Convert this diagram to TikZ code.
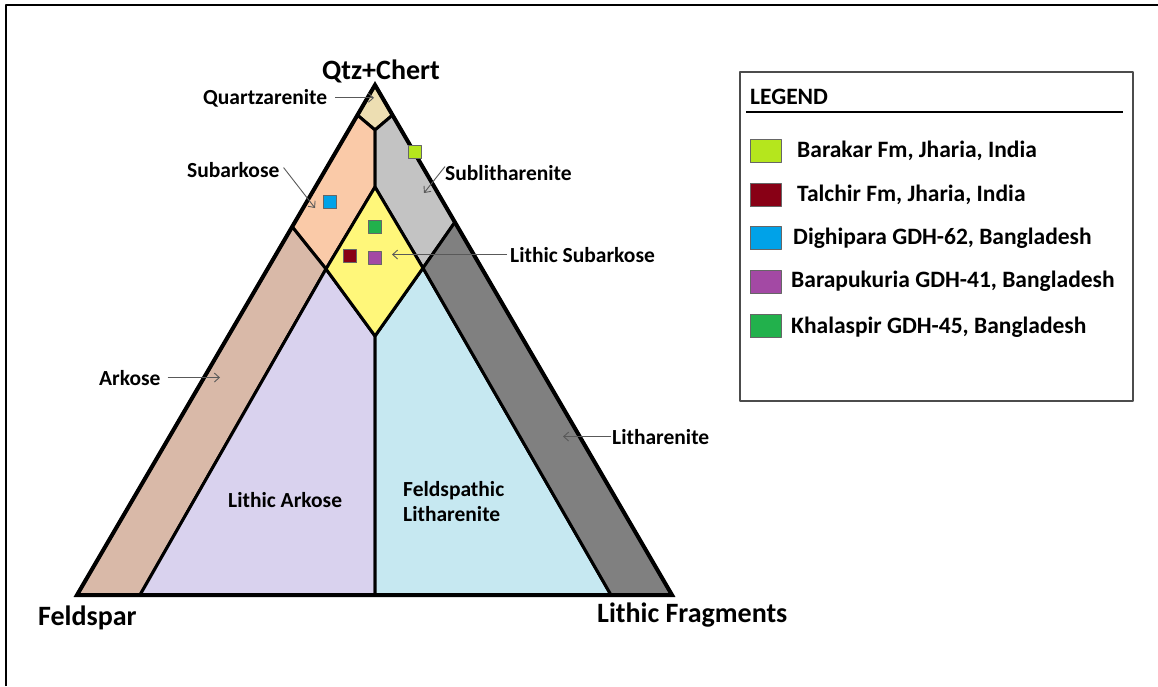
\documentclass[tikz,border=0pt]{standalone}
\usepackage{fontspec}
\setmainfont{Carlito}
\usetikzlibrary{arrows.meta,calc}
\definecolor{cQ}{RGB}{237,222,178}
\definecolor{cSA}{RGB}{250,202,168}
\definecolor{cSL}{RGB}{195,195,195}
\definecolor{cLS}{RGB}{255,247,122}
\definecolor{cAR}{RGB}{217,185,168}
\definecolor{cLA}{RGB}{217,210,238}
\definecolor{cFL}{RGB}{198,232,241}
\definecolor{cLI}{RGB}{128,128,128}
\definecolor{mLime}{RGB}{181,230,29}
\definecolor{mRed}{RGB}{136,0,21}
\definecolor{mBlue}{RGB}{0,162,232}
\definecolor{mPurple}{RGB}{163,73,164}
\definecolor{mGreen}{RGB}{34,177,76}
\begin{document}
\begin{tikzpicture}[x=1pt,y=-1pt,line join=round,
  region/.style={draw=black,line width=3pt},
  lbl/.style={font=\fontsize{21.5}{25}\selectfont\bfseries,inner sep=0pt,anchor=base west,align=left},
  big/.style={font=\fontsize{28}{32}\selectfont\bfseries,inner sep=0pt},
  leg/.style={font=\fontsize{23.5}{27}\selectfont\bfseries,inner sep=0pt,anchor=base west},
  pointer/.style={draw=black!65,line width=0.9pt,-{Straight Barb[length=5pt,width=9pt]}},
  sample/.style={draw=black!60,line width=1pt,minimum width=13pt,minimum height=13pt,inner sep=0pt},
  legsq/.style={draw=black!60,line width=1pt,minimum width=31pt,minimum height=23pt,inner sep=0pt}]
\useasboundingbox (0,0) rectangle (1158,686);
\fill[white] (0,0) rectangle (1158,686);
\draw[line width=2.5pt] (6,686) -- (6,5) -- (1158,5);
% key points
\coordinate (A) at (375,85);
\coordinate (F) at (77,595);
\coordinate (L) at (672,595);
\coordinate (QL) at ($(A)!0.059!(F)$);
\coordinate (QR) at ($(A)!0.059!(L)$);
\coordinate (QB) at (375,130);
\coordinate (D1) at (375,187);
\coordinate (DL) at (326,269);
\coordinate (DR) at (423,268);
\coordinate (DB) at (375,336);
\coordinate (SL) at ($(A)!0.278!(F)$);
\coordinate (SR) at ($(A)!0.269!(L)$);
\coordinate (AB) at (140,595);
\coordinate (LB) at (611,595);
\coordinate (M) at (375,595);
% regions
\filldraw[region,fill=cQ] (A) -- (QL) -- (QB) -- (QR) -- cycle;
\filldraw[region,fill=cSA] (QL) -- (QB) -- (D1) -- (DL) -- (SL) -- cycle;
\filldraw[region,fill=cSL] (QR) -- (QB) -- (D1) -- (DR) -- (SR) -- cycle;
\filldraw[region,fill=cAR] (SL) -- (DL) -- (AB) -- (F) -- cycle;
\filldraw[region,fill=cLA] (DL) -- (DB) -- (M) -- (AB) -- cycle;
\filldraw[region,fill=cFL] (DR) -- (LB) -- (M) -- (DB) -- cycle;
\filldraw[region,fill=cLI] (SR) -- (L) -- (LB) -- (DR) -- cycle;
\filldraw[region,fill=cLS] (D1) -- (DR) -- (DB) -- (DL) -- cycle;
\draw[line width=4pt,line join=miter] (A) -- (F) -- (L) -- cycle;
% samples
\node[sample,fill=mLime] (s1) at (415,152) {};
\node[sample,fill=mBlue] (s3) at (330,202) {};
\node[sample,fill=mGreen] (s5) at (375,227) {};
\node[sample,fill=mRed] (s2) at (350,256) {};
\node[sample,fill=mPurple] (s4) at (375,258) {};
% corner labels
\node[big,anchor=base] (qc) at (381,79) {Qtz+Chert};
\node[big,anchor=base west] (fe) at (38,625) {Feldspar};
\node[big,anchor=base west] (lf) at (597,622) {Lithic Fragments};
% region labels and pointers
\node[lbl] (qz) at (203,104) {Quartzarenite};
\coordinate (qzT) at (374,100);
\draw[pointer] ([xshift=8pt]qz.east) -- (qz.east -| qzT);
\node[lbl] (sa) at (187,177) {Subarkose};
\coordinate (saT) at (315,208);
\draw[pointer] ([xshift=4pt,yshift=2pt]sa.east) -- (saT);
\node[lbl] (sl) at (445,180) {Sublitharenite};
\coordinate (slT) at (424,193);
\draw[pointer] ([yshift=6pt]sl.west) -- (slT);
\node[lbl] (ls) at (510,262) {Lithic Subarkose};
\coordinate (lsT) at (392,256);
\draw[pointer] ([xshift=-3pt]ls.west) -- (ls.west -| lsT);
\node[lbl] (ar) at (99,385) {Arkose};
\coordinate (arT) at (220,379);
\draw[pointer] ([xshift=7pt]ar.east) -- (ar.east -| arT);
\node[lbl] (li) at (612,444) {Litharenite};
\coordinate (liT) at (563,438);
\draw[pointer] ([xshift=-1pt]li.west) -- (li.west -| liT);
\node[lbl] (la) at (228,507) {Lithic Arkose};
\node[lbl,anchor=west] (fl) at (403,501.5) {Feldspathic\\Litharenite};
% legend
\draw[draw=black!70,line width=1.2pt] (740,72) rectangle (1133,401);
\node[leg] (lt) at (750,104) {LEGEND};
\draw[line width=2.5pt] (746,112) -- (1123,112);
\node[legsq,fill=mLime] (q1) at (765.5,151) {};
\node[leg] (t1) at (797,157) {Barakar Fm, Jharia, India};
\node[legsq,fill=mRed] (q2) at (765.5,195) {};
\node[leg] (t2) at (797,201) {Talchir Fm, Jharia, India};
\node[legsq,fill=mBlue] (q3) at (765.5,238) {};
\node[leg] (t3) at (793,244) {Dighipara GDH-62, Bangladesh};
\node[legsq,fill=mPurple] (q4) at (765.5,282) {};
\node[leg] (t4) at (791,287) {Barapukuria GDH-41, Bangladesh};
\node[legsq,fill=mGreen] (q5) at (765.5,326) {};
\node[leg] (t5) at (791,333) {Khalaspir GDH-45, Bangladesh};
\end{tikzpicture}
\end{document}
